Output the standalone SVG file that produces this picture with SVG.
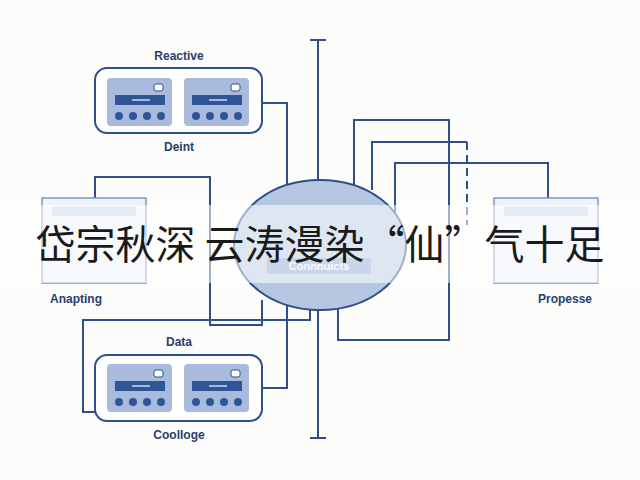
<svg xmlns="http://www.w3.org/2000/svg" width="640" height="480" viewBox="0 0 640 480">
<style>
.c{fill:none;stroke:#2f4f8a;stroke-width:2}
.box{fill:#fff;stroke:#2f4f8a;stroke-width:2}
.pan{fill:#a9bbdc}
.bar{fill:#2f5597}
.dot{fill:#2f5597}
.lbl{font-family:"Liberation Sans",Arial,sans-serif;font-size:12px;font-weight:bold;fill:#2a3f6e;text-anchor:middle}
.sc{fill:#eef2f9;stroke:#7e95c0;stroke-width:1.5}
</style>
<defs>
<g id="panel">
<rect class="pan" x="0" y="0" width="65" height="48" rx="4"/>
<rect x="47" y="6" width="9" height="7" rx="2" fill="#fff" stroke="#2f4f8a"/>
<rect class="bar" x="8" y="17" width="50" height="10"/>
<line x1="25" y1="22" x2="43" y2="22" stroke="#cfd9ee" stroke-width="1.5"/>
<circle class="dot" cx="12" cy="38" r="4"/><circle class="dot" cx="26" cy="38" r="4"/><circle class="dot" cx="40" cy="38" r="4"/><circle class="dot" cx="54" cy="38" r="4"/>
</g>
</defs>
<rect width="640" height="480" fill="#fcfcfb"/>
<g id="connectors">
<path class="c" d="M318 40V438M310 40H326M310 438H326"/>
<path class="c" d="M262 103H287V185"/>
<path class="c" d="M95 198V177H210V325H262V300"/>
<path class="c" d="M354 190V120H449V340H338V300"/>
<path class="c" d="M372 190V142H467"/>
<path class="c" d="M467 142V225" stroke-dasharray="8 5"/>
<path class="c" d="M395 220V163H548V198"/>
<path class="c" d="M95 412H83V320H310V298"/>
<path class="c" d="M262 388H287V305"/>
</g>
<g id="reactive">
<text class="lbl" x="179" y="60">Reactive</text>
<rect class="box" x="95" y="68" width="167" height="65" rx="12"/>
<use href="#panel" x="107" y="78"/><use href="#panel" x="184" y="78"/>
<text class="lbl" x="179" y="151">Deint</text>
</g>
<g id="center">
<ellipse cx="320" cy="245" rx="86" ry="65" fill="#b7c7e2" stroke="#2f4f8a" stroke-width="2"/>
<rect x="267" y="258" width="104" height="16" rx="2" fill="#8aa3cf"/>
<text x="319" y="270" font-family="Liberation Sans,sans-serif" font-size="11" font-weight="bold" fill="#eef2fa" text-anchor="middle">Connnuicts</text>
</g>
<g id="anapting">
<rect class="sc" x="42" y="198" width="104" height="85"/>
<rect x="52" y="207" width="84" height="9" fill="#c5d2e8"/>
<text class="lbl" x="76" y="303">Anapting</text>
</g>
<g id="propesse">
<rect class="sc" x="494" y="198" width="104" height="85"/>
<rect x="504" y="207" width="84" height="9" fill="#c5d2e8"/>
<text class="lbl" x="565" y="303">Propesse</text>
</g>
<g id="data">
<text class="lbl" x="179" y="346">Data</text>
<rect class="box" x="95" y="355" width="167" height="66" rx="12"/>
<use href="#panel" x="107" y="364"/><use href="#panel" x="184" y="364"/>
<text class="lbl" x="179" y="439">Coolloge</text>
</g>
<rect x="0" y="205" width="640" height="78" fill="#ffffff" opacity="0.55"/>
<text x="320" y="259" font-family="Noto Sans CJK SC,sans-serif" font-size="40" fill="#1a1a1a" text-anchor="middle">岱宗秋深 云涛漫染“仙”气十足</text>
</svg>
